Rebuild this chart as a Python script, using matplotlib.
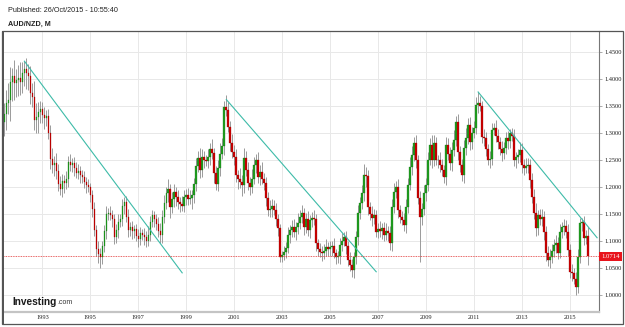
import numpy as np
import matplotlib.pyplot as plt
from matplotlib.patches import Rectangle
from matplotlib.transforms import blended_transform_factory

# monthly AUD/NZD candles, Jun 1991 .. Oct 2015
start_year, start_month = 1991, 6
first_open = 1.320
closes = [
    1.335, 1.355, 1.362, 1.395, 1.405, 1.392, 1.398,  # 1991 (Jun-Dec)
    1.401, 1.395, 1.412, 1.418, 1.412, 1.405, 1.374, 1.366, 1.325, 1.330, 1.338, 1.345,  # 1992
    1.334, 1.328, 1.332, 1.300, 1.252, 1.240, 1.245, 1.230, 1.205, 1.196, 1.212, 1.208,  # 1993
    1.215, 1.246, 1.240, 1.244, 1.236, 1.226, 1.230, 1.222, 1.218, 1.210, 1.204, 1.200,  # 1994
    1.185, 1.160, 1.120, 1.085, 1.075, 1.070, 1.090, 1.118, 1.150, 1.152, 1.148, 1.140,  # 1995
    1.107, 1.120, 1.135, 1.140, 1.165, 1.172, 1.145, 1.120, 1.125, 1.118, 1.122, 1.110,  # 1996
    1.104, 1.115, 1.112, 1.108, 1.100, 1.112, 1.135, 1.148, 1.140, 1.132, 1.118, 1.112,  # 1997
    1.145, 1.170, 1.188, 1.196, 1.163, 1.178, 1.190, 1.182, 1.172, 1.168, 1.165, 1.182,  # 1998
    1.186, 1.178, 1.180, 1.185, 1.205, 1.238, 1.254, 1.231, 1.255, 1.250, 1.248, 1.256,  # 1999
    1.270, 1.263, 1.226, 1.205, 1.235, 1.262, 1.275, 1.348, 1.343, 1.311, 1.281, 1.265,  # 2000
    1.256, 1.222, 1.215, 1.210, 1.204, 1.254, 1.231, 1.207, 1.200, 1.215, 1.240, 1.250,  # 2001
    1.219, 1.228, 1.215, 1.207, 1.180, 1.157, 1.160, 1.165, 1.158, 1.140, 1.124, 1.070,  # 2002
    1.074, 1.080, 1.087, 1.111, 1.120, 1.126, 1.117, 1.125, 1.133, 1.145, 1.152, 1.126,  # 2003
    1.140, 1.120, 1.138, 1.142, 1.140, 1.096, 1.085, 1.080, 1.078, 1.082, 1.089, 1.085,  # 2004
    1.088, 1.090, 1.078, 1.070, 1.072, 1.093, 1.100, 1.107, 1.090, 1.065, 1.055, 1.046,  # 2005
    1.070, 1.107, 1.152, 1.170, 1.189, 1.222, 1.220, 1.163, 1.150, 1.143, 1.148, 1.117,  # 2006
    1.122, 1.118, 1.124, 1.112, 1.118, 1.115, 1.096, 1.163, 1.190, 1.200, 1.157, 1.145,  # 2007
    1.139, 1.130, 1.163, 1.204, 1.237, 1.260, 1.281, 1.250, 1.180, 1.144, 1.160, 1.189,  # 2008
    1.204, 1.250, 1.278, 1.250, 1.281, 1.250, 1.250, 1.240, 1.231, 1.219, 1.278, 1.262,  # 2009
    1.244, 1.268, 1.287, 1.320, 1.265, 1.240, 1.222, 1.272, 1.290, 1.315, 1.283, 1.300,  # 2010
    1.310, 1.352, 1.356, 1.350, 1.293, 1.290, 1.270, 1.250, 1.252, 1.306, 1.309, 1.295,  # 2011
    1.283, 1.270, 1.263, 1.272, 1.291, 1.285, 1.300, 1.295, 1.250, 1.255, 1.259, 1.269,  # 2012
    1.241, 1.235, 1.238, 1.241, 1.213, 1.181, 1.152, 1.124, 1.148, 1.140, 1.145, 1.117,  # 2013
    1.078, 1.065, 1.070, 1.082, 1.093, 1.096, 1.078, 1.117, 1.126, 1.128, 1.117, 1.083,  # 2014
    1.043, 1.040, 1.030, 1.015, 1.070, 1.133, 1.135, 1.105, 1.110, 1.0714,  # 2015
]
# upper / lower wick lengths in thousandths
wick_up = [
    20, 25, 30, 28, 15, 30, 20,
    25, 30, 20, 15, 20, 15, 20, 18, 30, 25, 20, 15,
    12, 15, 10, 12, 15, 20, 12, 18, 12, 15, 12, 10,
    15, 12, 15, 10, 12, 10, 12, 8, 10, 12, 8, 10,
    8, 10, 12, 10, 15, 12, 10, 12, 15, 10, 12, 10,
    10, 12, 15, 10, 12, 10, 12, 15, 10, 12, 8, 10,
    12, 10, 8, 12, 10, 15, 12, 10, 8, 10, 12, 15,
    12, 15, 12, 18, 10, 12, 15, 10, 12, 10, 15, 12,
    10, 12, 15, 10, 12, 15, 12, 18, 15, 12, 10, 15,
    12, 18, 10, 12, 15, 20, 15, 12, 22, 15, 12, 18,
    12, 15, 10, 20, 12, 18, 12, 15, 12, 18, 15, 12,
    15, 12, 18, 10, 12, 10, 15, 12, 10, 12, 10, 8,
    8, 10, 12, 15, 10, 12, 15, 10, 18, 12, 15, 10,
    12, 15, 10, 12, 15, 10, 8, 12, 10, 12, 15, 10,
    12, 10, 15, 8, 10, 12, 15, 10, 12, 10, 15, 12,
    10, 12, 15, 12, 15, 20, 15, 12, 10, 15, 12, 10,
    12, 15, 10, 12, 15, 10, 12, 15, 18, 12, 15, 10,
    10, 12, 15, 12, 18, 15, 12, 15, 10, 12, 10, 15,
    12, 15, 12, 18, 15, 12, 10, 15, 12, 10, 15, 12,
    12, 15, 18, 12, 15, 10, 12, 15, 20, 12, 15, 12,
    12, 15, 20, 12, 10, 15, 12, 10, 15, 12, 10, 15,
    12, 10, 15, 12, 10, 12, 8, 10, 12, 10, 12, 15,
    12, 10, 15, 12, 10, 12, 15, 18, 10, 12, 15, 10,
    10, 12, 15, 12, 10, 15, 12, 15, 10, 12, 10, 15,
    12, 15, 10, 12, 15, 10, 8, 12, 10, 15,
]
wick_dn = [
    25, 30, 20, 40, 35, 30, 25,
    30, 25, 20, 25, 30, 25, 20, 18, 20, 25, 30, 20,
    15, 20, 15, 12, 18, 15, 20, 15, 12, 10, 15, 20,
    12, 15, 10, 12, 15, 10, 12, 15, 10, 12, 15, 10,
    12, 15, 10, 12, 15, 20, 12, 10, 15, 12, 10, 15,
    12, 10, 15, 10, 12, 15, 10, 12, 10, 15, 12, 10,
    15, 12, 10, 15, 12, 10, 12, 10, 15, 12, 10, 15,
    15, 12, 10, 15, 20, 12, 15, 18, 12, 15, 10, 12,
    15, 12, 10, 20, 15, 12, 10, 15, 12, 15, 10, 12,
    15, 12, 18, 10, 12, 15, 10, 15, 12, 10, 15, 12,
    15, 12, 18, 12, 20, 15, 10, 12, 15, 12, 10, 15,
    12, 15, 10, 12, 15, 10, 12, 15, 10, 12, 15, 8,
    8, 10, 12, 10, 15, 12, 10, 15, 12, 10, 12, 15,
    12, 10, 15, 12, 10, 15, 12, 10, 15, 12, 10, 12,
    12, 15, 10, 12, 10, 15, 12, 10, 15, 12, 10, 12,
    15, 12, 15, 12, 10, 15, 20, 15, 12, 15, 12, 10,
    12, 10, 15, 12, 10, 15, 12, 15, 12, 10, 15, 12,
    10, 12, 15, 12, 10, 15, 12, 15, 12, 83, 15, 12,
    15, 12, 10, 15, 12, 10, 15, 12, 10, 12, 15, 12,
    12, 15, 10, 12, 15, 12, 10, 15, 12, 10, 15, 12,
    10, 12, 15, 10, 12, 15, 12, 10, 15, 12, 10, 12,
    12, 10, 15, 12, 10, 15, 12, 10, 12, 15, 10, 12,
    15, 12, 10, 12, 15, 10, 12, 15, 12, 10, 12, 15,
    15, 12, 15, 10, 12, 15, 12, 10, 12, 15, 12, 10,
    12, 15, 10, 15, 12, 10, 15, 12, 10, 15,
]

# trend lines drawn on the chart: (year, price) -> (year, price)
trend_lines = [
    ((1992.25, 1.433), (1998.83, 1.041)),
    ((2000.67, 1.362), (2006.92, 1.043)),
    ((2011.17, 1.376), (2016.13, 1.106)),
]
last_price = 1.0714
year_ticks = list(range(1993, 2016, 2))
price_ticks = [1.00, 1.05, 1.10, 1.15, 1.20, 1.25, 1.30, 1.35, 1.40, 1.45]

closes = np.array(closes)
opens = np.concatenate([[first_open], closes[:-1]])
highs = np.maximum(opens, closes) + np.array(wick_up) / 1000
lows = np.minimum(opens, closes) - np.array(wick_dn) / 1000
t = start_year + (start_month - 1 + np.arange(len(closes))) / 12

W, H = 625, 327
fig = plt.figure(figsize=(W / 100, H / 100), dpi=100)
ax = fig.add_axes([4 / W, 1 - 312 / H, 595 / W, 281 / H])

up = closes >= opens
ax.vlines(t, lows, highs, color='#9a9a9a', lw=0.7, zorder=2)
ax.bar(t[up], (closes - opens)[up], bottom=opens[up], width=0.065,
       color='#1f9e1f', edgecolor='#137013', lw=0.2, zorder=3)
ax.bar(t[~up], (closes - opens)[~up], bottom=opens[~up], width=0.065,
       color='#cc0000', edgecolor='#8a0000', lw=0.2, zorder=3)

for (x0, y0), (x1, y1) in trend_lines:
    ax.plot([x0, x1], [y0, y1], color='#3dbba8', lw=0.8, zorder=4)

ax.axhline(last_price, color='#e03030', lw=0.6, ls=(0, (1, 1)), zorder=4)

ax.set_xlim(1991.40, 2016.21)
ax.set_ylim(0.9685, 1.4889)
ax.set_xticks(year_ticks)
ax.set_xticklabels([str(y) for y in year_ticks])
ax.set_yticks(price_ticks)
ax.set_yticklabels(['%.4f' % p for p in price_ticks])
ax.yaxis.tick_right()
ax.grid(True, color='#e8e8e8', lw=0.7, zorder=0)
ax.set_axisbelow(True)
for lab in ax.get_xticklabels() + ax.get_yticklabels():
    lab.set_fontfamily('Liberation Serif')
    lab.set_fontsize(4.6)
    lab.set_color('#222222')
ax.tick_params(axis='y', length=2.5, width=0.5, color='#888888', pad=1.5)
ax.tick_params(axis='x', length=0, pad=2.5)
ax.spines['left'].set_visible(False)
ax.spines['top'].set_visible(False)
ax.spines['right'].set_color('#777777')
ax.spines['right'].set_linewidth(0.8)
ax.spines['bottom'].set_color('#c4c4c4')
ax.spines['bottom'].set_linewidth(1.6)

# current price tag
tr = blended_transform_factory(ax.transAxes, ax.transData)
ax.text(1.004, last_price, '%.4f' % last_price, transform=tr, ha='left', va='center',
        fontsize=4.8, family='Liberation Serif', color='white', clip_on=False, zorder=6,
        bbox=dict(boxstyle='square,pad=0.35', fc='#e8141c', ec='none'))

# outer frame
fig.patches.append(Rectangle((2 / W, 1 - 324 / H), 621 / W, 293 / H, transform=fig.transFigure,
                             fill=False, ec='#555555', lw=0.9))
fig.patches.append(Rectangle((2 / W, 1 - 324 / H), 1.5 / W, 293 / H, transform=fig.transFigure,
                             fill=True, fc='#555555', ec='none'))

fig.text(8 / W, 1 - 10 / H, 'Published: 26/Oct/2015 - 10:55:40', fontsize=5.2,
         family='Liberation Sans', va='center', color='#222222')
fig.text(8 / W, 1 - 24 / H, 'AUD/NZD, M', fontsize=5.2, weight='bold',
         family='Liberation Sans', va='center', color='#222222')
fig.text(12 / W, 1 - 302 / H, 'Investing', fontsize=7.3, weight='bold',
         family='Liberation Sans', va='center', color='#1a1a1a')
fig.text(57.5 / W, 1 - 303 / H, '.com', fontsize=5.0, family='Liberation Sans',
         va='center', color='#333333')

fig.savefig('out.png', dpi=100)
